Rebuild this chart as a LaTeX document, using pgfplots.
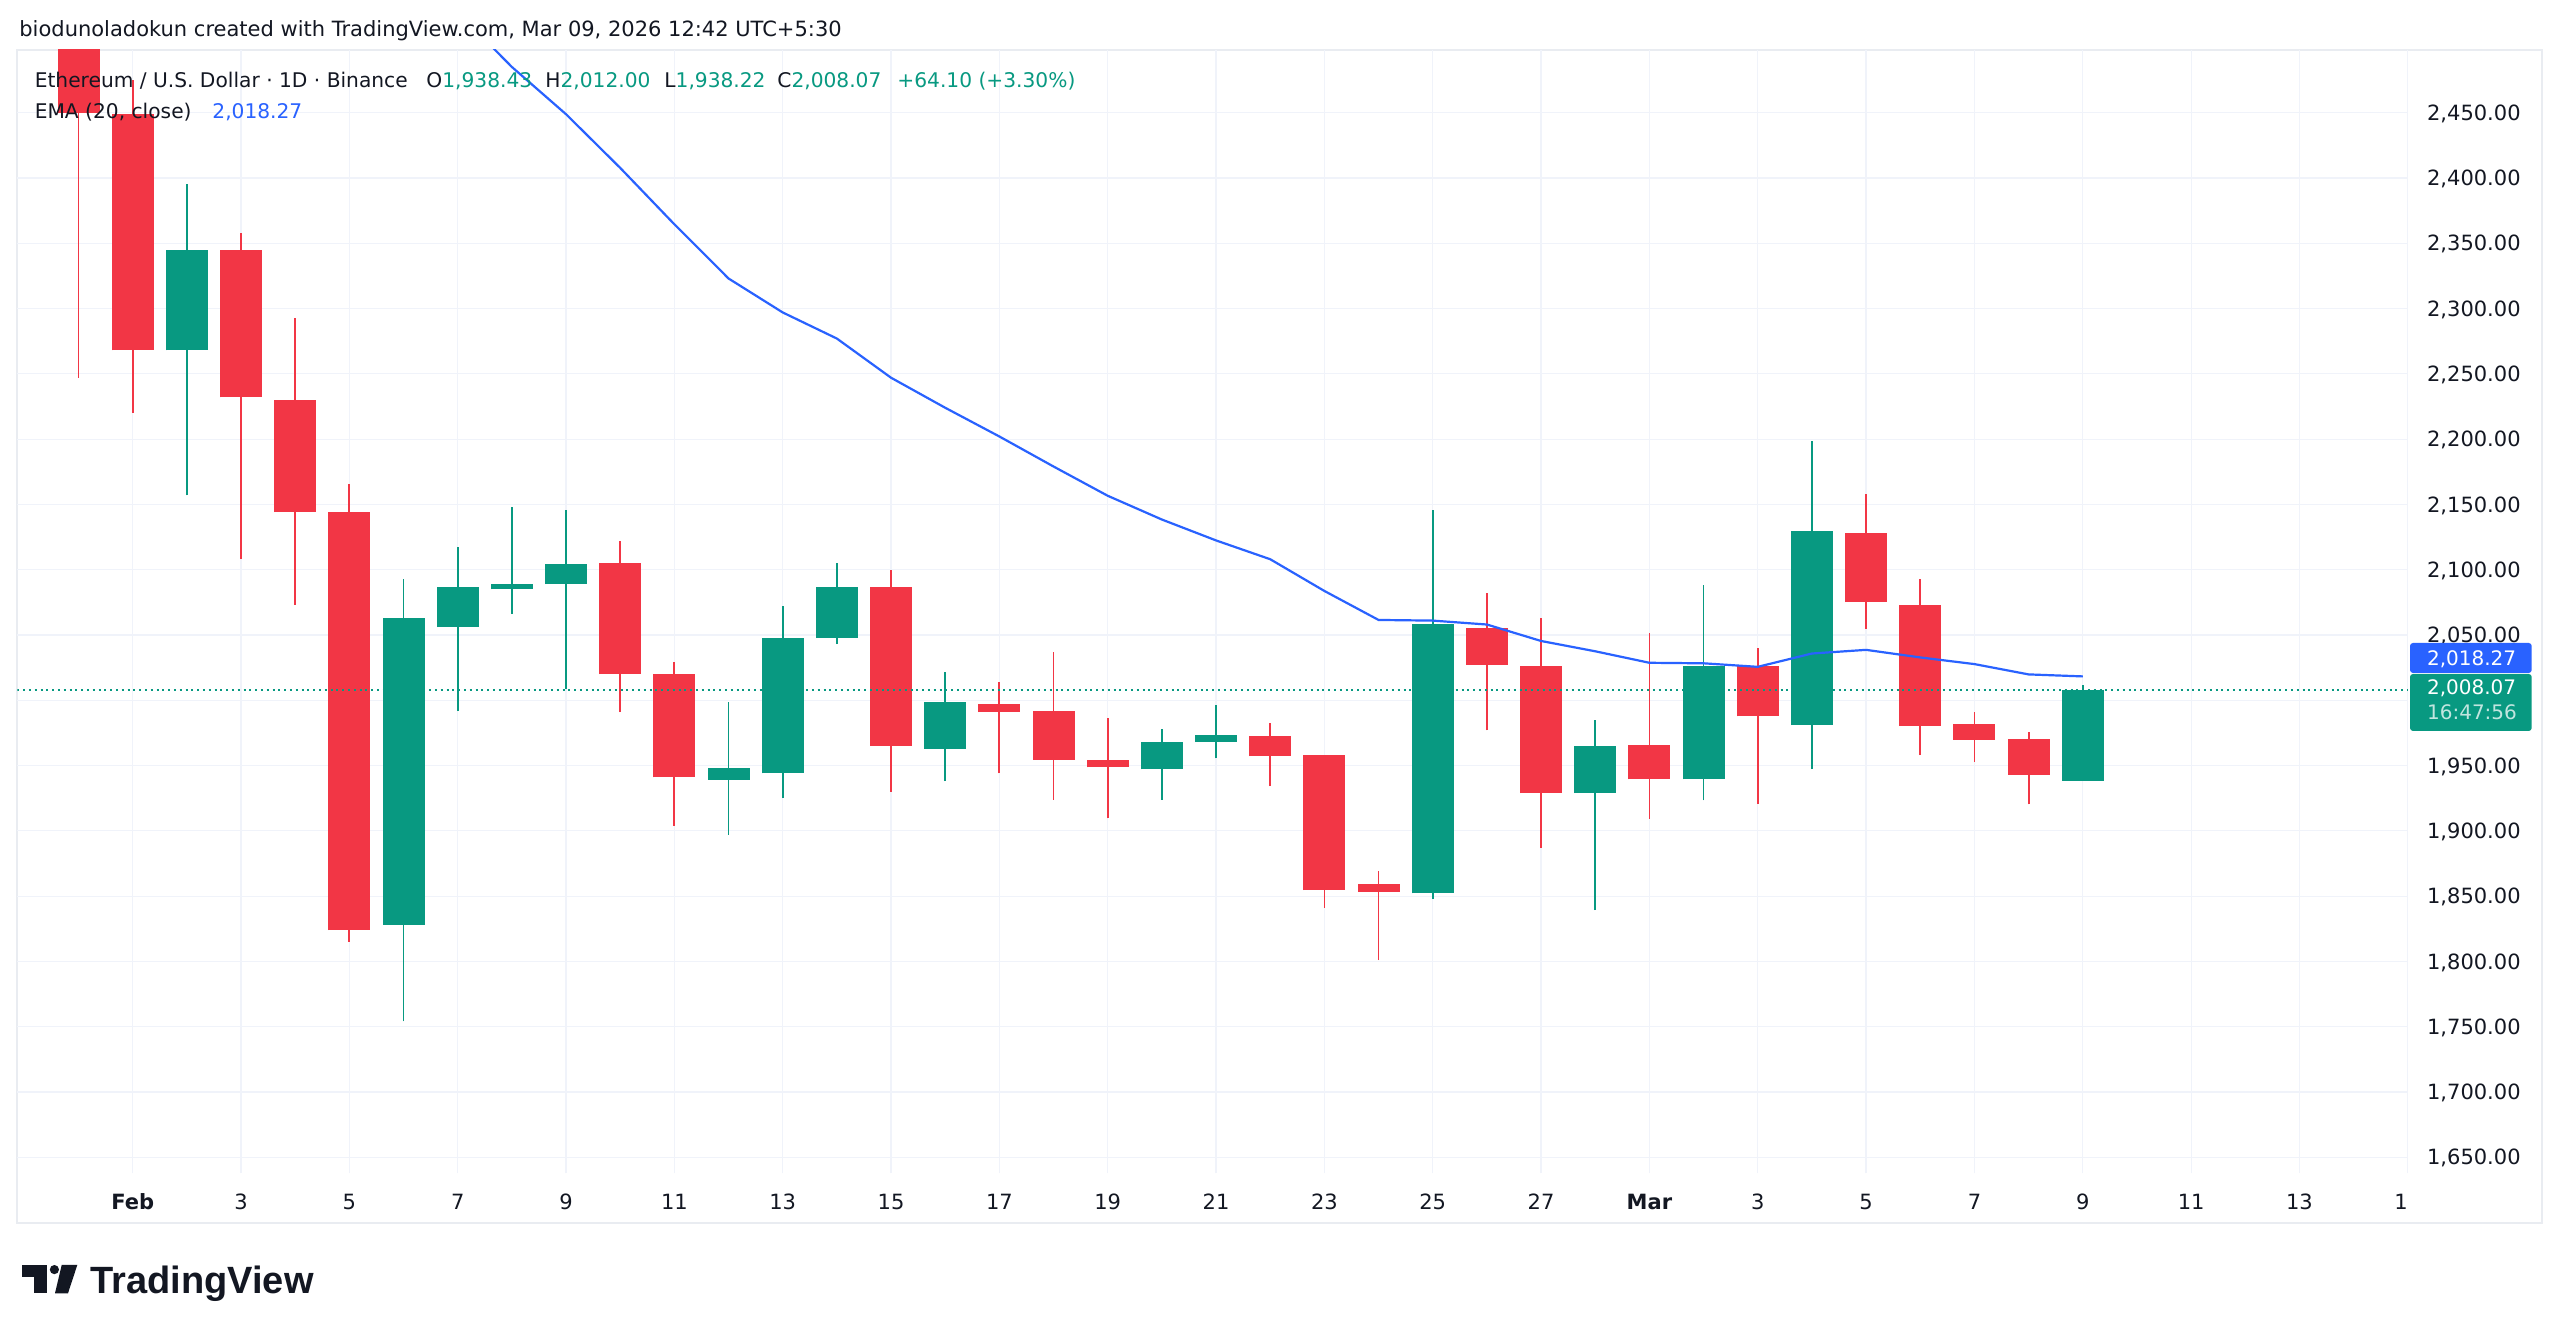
\documentclass[border=0pt]{standalone}
\usepackage{pgfplots}
\pgfplotsset{compat=1.18}
\usepackage{pgfplotstable}
\usepackage{fontspec}
\setmainfont{DejaVu Sans}
\newfontfamily\logofont{Liberation Sans}
\definecolor{upc}{HTML}{089981}
\definecolor{downc}{HTML}{F23645}
\definecolor{emac}{HTML}{2962FF}
\definecolor{txt}{HTML}{131722}
\definecolor{gridc}{HTML}{F0F3FA}
\definecolor{boxc}{HTML}{E9ECF1}

% day index: Jan 31 = 0, Feb 1 = 1, ..., Mar 1 = 29, Mar 9 = 37
\pgfplotstableread{
d o h l c
2 2268 2395 2157 2345
6 1828 2093 1754 2063
7 2056 2117 1992 2087
8 2085 2148 2066 2089
9 2089 2146 2009 2104
12 1939 1999 1897 1948
13 1944 2072 1925 2048
14 2047.5 2105 2043 2086.5
16 1963 2021.5 1938 1998.6
20 1947 1978 1924 1968
21 1968 1996 1955.5 1973.6
25 1852.2 2146 1848 2058.1
28 1928.8 1985 1839.2 1964.7
30 1939.4 2088.5 1923.3 2026.6
32 1981 2198.3 1947.3 2129.5
37 1938.43 2012 1938.22 2008.07
}\upT

\pgfplotstableread{
d o h l c
0 2540 2570 2247 2450
1 2449 2475 2220 2268
3 2345 2358 2108 2232
4 2230 2293 2073 2144
5 2144 2166 1815 1824
10 2105 2122 1991 2020
11 2020 2029 1904 1941
15 2086.5 2100 1930 1965
17 1997.5 2014 1944 1991
18 1991.4 2037 1924 1954.4
19 1954.4 1986.6 1909.6 1948.6
22 1972.6 1982.5 1934.3 1957.2
23 1957.9 1958 1841.2 1854.6
24 1859 1869 1801 1853.2
26 2055 2082.4 1977 2027.3
27 2026.6 2063.2 1887 1928.8
29 1965.8 2051.2 1909.3 1939.4
31 2025.9 2040 1920.6 1987.6
33 2128.2 2157.6 2054.6 2075.2
34 2072.8 2092.6 1957.9 1980.4
35 1982.1 1990.7 1952.7 1969.8
36 1970.2 1976 1920.2 1942.8
}\downT

\pgfplotstableread{
d ema
7 2527
8 2485
9 2448.8
10 2407.7
11 2364.5
12 2323
13 2297
14 2277
15 2247
16 2224
17 2202
18 2179
19 2156.6
20 2138.4
21 2122.4
22 2108
23 2083.7
24 2061.5
25 2061
26 2058
27 2045.4
28 2037.5
29 2028.7
30 2028.3
31 2025.6
32 2035.8
33 2038.6
34 2032.8
35 2027.7
36 2019.8
37 2018.27
}\emaT

\newcommand\myTf{\fontsize{10.5}{12.6}\selectfont}
\newcommand\myLf{\fontsize{10.1}{12}\selectfont}
\newcommand\mySf{\fontsize{10}{11}\selectfont}

\begin{document}
\begin{tikzpicture}
\useasboundingbox (0,0) rectangle (1280pt,668pt);
\fill[white] (0,0) rectangle (1280pt,668pt);
% chart frame
\draw[boxc, line width=1pt] (8.65pt,56.35pt) rectangle (1270.85pt,643pt);

\begin{axis}[
  at={(8.65pt,81.35pt)}, anchor=south west,
  width=1195.5pt, height=561.65pt, scale only axis,
  xmin=-1.13, xmax=43.01, ymin=1637.75, ymax=2498,
  axis line style={draw=none},
  major tick length=0pt,
  xtick={1,3,...,43},
  xticklabels={\textbf{Feb},3,5,7,9,11,13,15,17,19,21,23,25,27,\textbf{Mar},3,5,7,9,11,13,1\phantom{5}},
  ytick={1650,1700,1750,1800,1850,1900,1950,2050,2100,2150,2200,2250,2300,2350,2400,2450},
  extra y ticks={2000},
  extra y tick labels={},
  extra y tick style={grid=major},
  yticklabel pos=right,
  yticklabel={\pgfmathprintnumber[fixed,fixed zerofill,precision=2,1000 sep={,},assume math mode=true]{\tick}},
  grid=major,
  major grid style={draw=gridc, line width=0.6pt},
  xticklabel style={anchor=base, inner sep=0pt, yshift=-18pt, font=\myTf, text=txt},
  yticklabel style={anchor=base west, inner sep=0pt, xshift=9.2pt, yshift=-3.85pt, font=\myTf, text=txt},
]
% wicks
\addplot[draw=none, no markers, forget plot,
  error bars/.cd, y dir=plus, y explicit, error mark=none,
  error bar style={draw=upc, line width=0.9pt}]
  table[x=d, y=l, y error plus expr={\thisrow{h}-\thisrow{l}}] {\upT};
\addplot[draw=none, no markers, forget plot,
  error bars/.cd, y dir=plus, y explicit, error mark=none,
  error bar style={draw=downc, line width=0.9pt}]
  table[x=d, y=l, y error plus expr={\thisrow{h}-\thisrow{l}}] {\downT};
% bodies
\addplot[draw=none, no markers, forget plot,
  error bars/.cd, y dir=plus, y explicit, error mark=none,
  error bar style={draw=upc, line width=21pt}]
  table[x=d, y=o, y error plus expr={\thisrow{c}-\thisrow{o}}] {\upT};
\addplot[draw=none, no markers, forget plot,
  error bars/.cd, y dir=plus, y explicit, error mark=none,
  error bar style={draw=downc, line width=21pt}]
  table[x=d, y=c, y error plus expr={\thisrow{o}-\thisrow{c}}] {\downT};
% EMA
\addplot[emac, line width=1.1pt, mark=none] table[x=d, y=ema] {\emaT};
% last price line
\addplot[upc, line width=1pt, dash pattern=on 1pt off 1.9pt, mark=none]
  coordinates {(-1.13,2008.07) (43.01,2008.07)};
\end{axis}

% price labels on the right
\fill[emac, rounded corners=1.5pt] (1205pt,331.5pt) rectangle (1265.85pt,346.5pt);
\node[anchor=base west, inner sep=0pt, font=\mySf, text=white] at (1213.35pt,335.4pt) {2,018.27};
\fill[upc, rounded corners=1.5pt] (1205pt,302.5pt) rectangle (1265.85pt,331pt);
\node[anchor=base west, inner sep=0pt, font=\mySf, text=white] at (1213.35pt,320.6pt) {2,008.07};
\node[anchor=base west, inner sep=0pt, font=\mySf, text=white, opacity=0.75] at (1213.35pt,308.2pt) {16:47:56};

% header
\node[anchor=base west, inner sep=0pt, font=\myTf, text=txt] at (9.5pt,649.6pt)
  {biodunoladokun created with TradingView.com, Mar 09, 2026 12:42 UTC+5:30};
\node[anchor=base west, inner sep=0pt, font=\myLf, text=txt] at (17.2pt,624.25pt)
  {Ethereum / U.S. Dollar · 1D · Binance};
\node[anchor=base west, inner sep=0pt, font=\myLf, text=txt] at (213pt,624.25pt) {O\textcolor{upc}{1,938.43}};
\node[anchor=base west, inner sep=0pt, font=\myLf, text=txt] at (272.5pt,624.25pt) {H\textcolor{upc}{2,012.00}};
\node[anchor=base west, inner sep=0pt, font=\myLf, text=txt] at (332pt,624.25pt) {L\textcolor{upc}{1,938.22}};
\node[anchor=base west, inner sep=0pt, font=\myLf, text=txt] at (388.5pt,624.25pt) {C\textcolor{upc}{2,008.07}};
\node[anchor=base west, inner sep=0pt, font=\myLf, text=upc] at (448.5pt,624.25pt) {+64.10 (+3.30\%)};
\node[anchor=base west, inner sep=0pt, font=\myLf, text=txt] at (17.2pt,608.75pt) {EMA (20, close)};
\node[anchor=base west, inner sep=0pt, font=\myLf, text=emac] at (106pt,608.75pt) {2,018.27};

% TradingView logo
\fill[txt] (10.85pt,29.65pt) rectangle (23.35pt,35.5pt);
\fill[txt] (17.15pt,21.35pt) rectangle (23.35pt,35.5pt);
\fill[txt] (27.2pt,33.2pt) circle (2.3pt);
\fill[txt] (30.85pt,35.5pt) -- (38.65pt,35.5pt) -- (34pt,21.35pt) -- (27.5pt,21.35pt) -- cycle;
\node[anchor=base west, inner sep=0pt, font=\logofont\bfseries\fontsize{19}{22}\selectfont, text=txt] at (45pt,21.35pt) {TradingView};
\end{tikzpicture}
\end{document}
